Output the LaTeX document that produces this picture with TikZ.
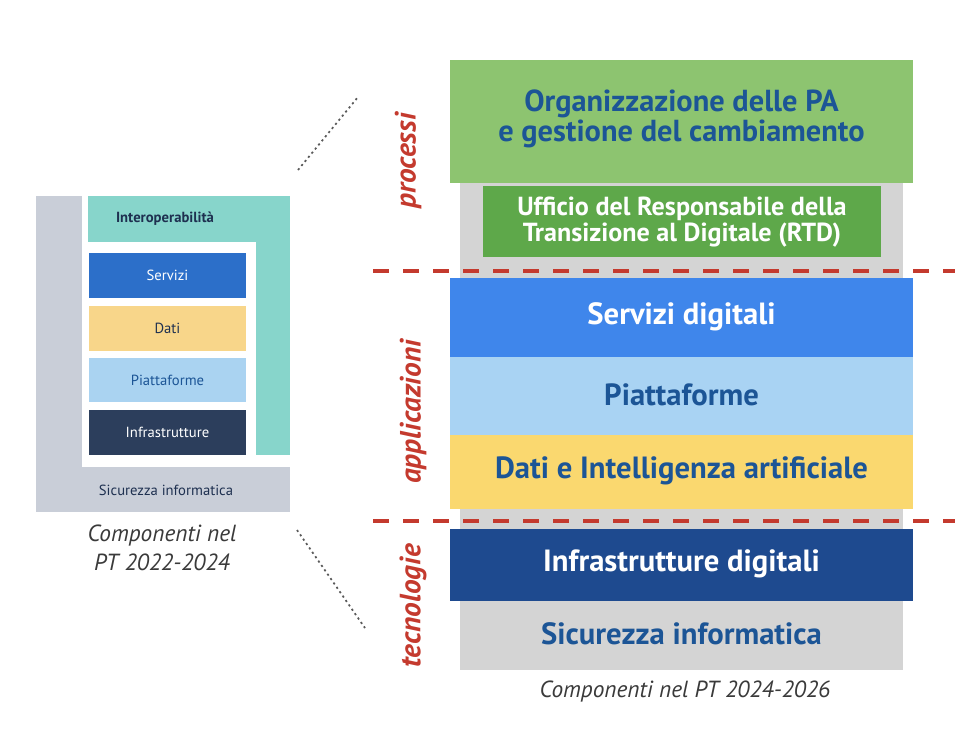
\documentclass[tikz,border=0pt]{standalone}
\usepackage{fontspec}
\setmainfont{PT Sans}
\begin{document}
\begin{tikzpicture}[x=0.75pt,y=-0.75pt,
  lbl/.style={inner sep=0pt,align=center,font=\bfseries},
  side/.style={inner sep=0pt,rotate=90,text=redL,font=\bfseries\itshape\fontsize{22}{22}\selectfont},
  capt/.style={inner sep=0pt,align=center,text=capG,font=\itshape\fontsize{17.5}{21.75}\selectfont},
  small/.style={inner sep=0pt,font=\fontsize{11}{12}\selectfont},
  big/.style={lbl,font=\bfseries\fontsize{23}{24}\selectfont},
  dots/.style={draw=black!65,line width=1.3pt,dash pattern=on 1.6pt off 2.4pt},
  sep/.style={draw=redL,line width=3pt,dash pattern=on 12pt off 10.5pt}]
\definecolor{grayR}{HTML}{D4D4D4}
\definecolor{greenA}{HTML}{8DC470}
\definecolor{greenB}{HTML}{5EA84A}
\definecolor{blueA}{HTML}{3F86EB}
\definecolor{blueL}{HTML}{A9D3F3}
\definecolor{yellowA}{HTML}{FAD86F}
\definecolor{navyA}{HTML}{1E4A8F}
\definecolor{txtB}{HTML}{1C5596}
\definecolor{redL}{HTML}{C43A2E}
\definecolor{capG}{HTML}{3A3A3A}
\definecolor{grayL}{HTML}{C9CED8}
\definecolor{tealL}{HTML}{87D5CB}
\definecolor{blueS}{HTML}{2C6FC9}
\definecolor{yellowS}{HTML}{F8D68A}
\definecolor{blueLS}{HTML}{AAD3F1}
\definecolor{navyS}{HTML}{2C3E5C}
\definecolor{txtS}{HTML}{1E3050}
\useasboundingbox (0,0) rectangle (955,736);
% ---------- left diagram ----------
\fill[grayL] (36,196) rectangle (290,512);
\fill[white] (82,196) rectangle (290,467);
\fill[tealL] (88,196) rectangle (290,455);
\fill[white] (88,242) rectangle (256,455);
\fill[blueS] (89,253) rectangle (246,298);
\fill[yellowS] (89,306) rectangle (246,351);
\fill[blueLS] (89,358) rectangle (246,402);
\fill[navyS] (89,410) rectangle (246,455);
\node[small,font=\bfseries\fontsize{11}{12}\selectfont,text=txtS] (linter) at (165,219) {Interoperabilità};
\node[small,text=white] (lserv) at (167.5,275.5) {Servizi};
\node[small,text=txtS] (ldati) at (167.5,328.5) {Dati};
\node[small,text=txtB] (lpiat) at (167.5,380) {Piattaforme};
\node[small,text=white] (linfra) at (167.5,432.5) {Infrastrutture};
\node[small,text=txtS] (lsic) at (166,490) {Sicurezza informatica};
\node[capt] (lcap) at (162,548) {Componenti nel\\PT 2022-2024};
% ---------- right diagram ----------
\fill[grayR] (460,183) rectangle (903,670);
\fill[greenA] (450,60) rectangle (913,183);
\fill[greenB] (483,186) rectangle (881,257);
\fill[blueA] (450,278) rectangle (913,357);
\fill[blueL] (450,357) rectangle (913,435);
\fill[yellowA] (450,435) rectangle (913,509);
\fill[navyA] (450,529) rectangle (913,601);
\node[lbl,text=txtB,font=\bfseries\fontsize{22.8}{23}\selectfont] (org) at (681.5,119) {Organizzazione delle PA\\e gestione del cambiamento};
\node[lbl,text=white,font=\bfseries\fontsize{19.6}{19}\selectfont] (rtd) at (682,222) {Ufficio del Responsabile della\\Transizione al Digitale (RTD)};
\node[big,text=white] (serv) at (681.5,317) {Servizi digitali};
\node[big,text=txtB] (piat) at (681.5,395) {Piattaforme};
\node[big,text=txtB] (dati) at (681.5,471) {Dati e Intelligenza artificiale};
\node[big,text=white] (infra) at (681.5,564) {Infrastrutture digitali};
\node[big,text=txtB] (sic) at (681.5,634) {Sicurezza informatica};
\node[capt] (rcap) at (685,692) {Componenti nel PT 2024-2026};
% side labels
\node[side] (proc) at (408,161) {processi};
\node[side] (appl) at (413,412) {applicazioni};
\node[side] (tecn) at (413,606) {tecnologie};
% separators
\coordinate (s1a) at (373,271); \coordinate (s1b) at (955,271);
\coordinate (s2a) at (373,521); \coordinate (s2b) at (955,521);
\draw[sep] (s1a) -- (s1b);
\draw[sep] (s2a) -- (s2b);
% zoom lines
\coordinate (z1a) at (298,170); \coordinate (z1b) at (358,97);
\coordinate (z2a) at (297,530); \coordinate (z2b) at (365,628);
\draw[dots] (z1a) -- (z1b);
\draw[dots] (z2a) -- (z2b);
\end{tikzpicture}
\end{document}
